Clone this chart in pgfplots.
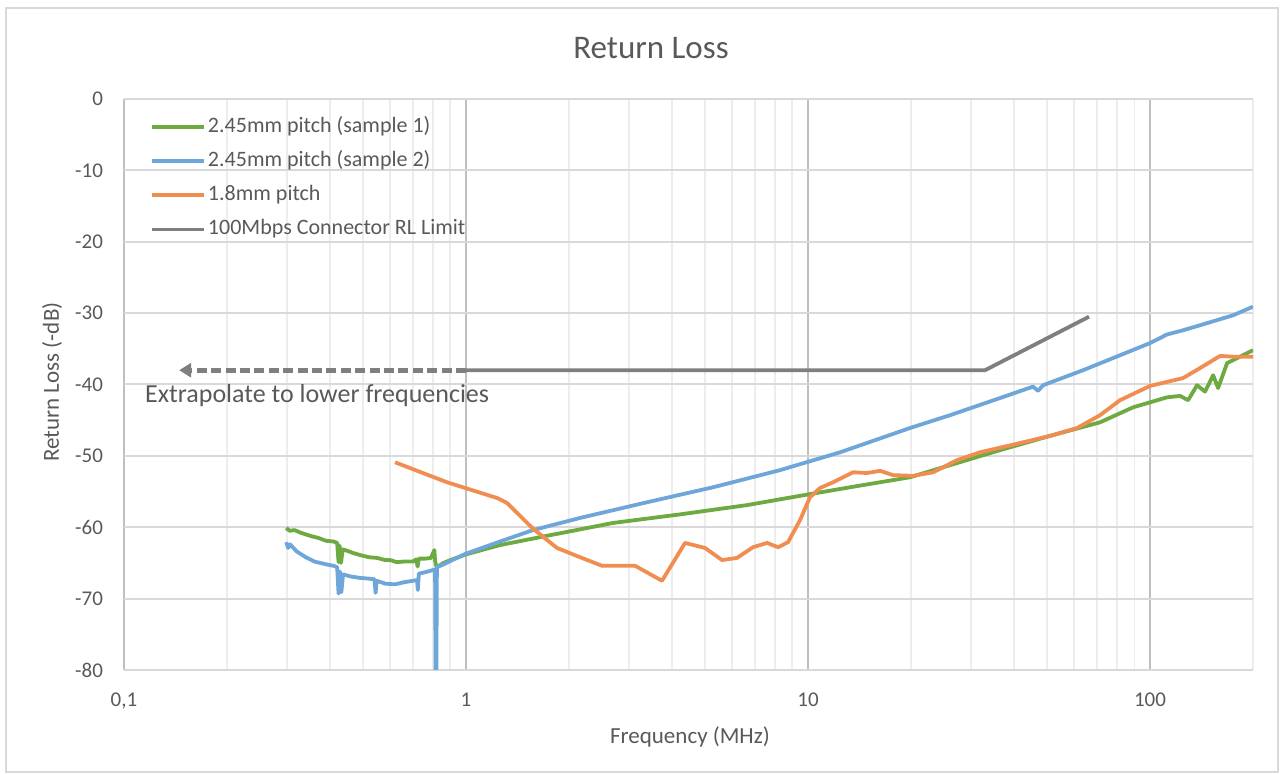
\documentclass[border=0pt]{standalone}
\usepackage{fontspec}
\setmainfont{Carlito}
\usepackage{pgfplots}
\pgfplotsset{compat=1.18}
\usetikzlibrary{arrows.meta}
\definecolor{cgreen}{HTML}{6DAA42}
\definecolor{cblue}{HTML}{6FA6DA}
\definecolor{corange}{HTML}{F08E52}
\definecolor{cgray}{HTML}{7F7F7F}
\definecolor{ctext}{HTML}{595959}
\definecolor{gmajor}{HTML}{D9D9D9}
\definecolor{gdec}{HTML}{BFBFBF}
\definecolor{gminor}{HTML}{EDEDED}
\begin{document}
\begin{tikzpicture}
\path (0,0) rectangle (640.5pt,387pt);
\draw[color=gmajor, line width=0.6pt] (3pt,1pt) rectangle (639pt,383pt);
\begin{axis}[
  at={(62pt,52pt)}, anchor=south west, scale only axis,
  width=564.5pt, height=285.5pt,
  xmode=log, xmin=0.1, xmax=200, ymin=-80, ymax=0,
  axis line style={draw=none},
  major tick length=0pt, minor tick length=0pt,
  xtick={0.1,1,10,100}, xticklabels={{0,1},1,10,100},
  minor xtick={0.2,0.3,0.4,0.5,0.6,0.7,0.8,0.9,2,3,4,5,6,7,8,9,20,30,40,50,60,70,80,90,200},
  ytick={-80,-70,-60,-50,-40,-30,-20,-10,0},
  yticklabels={-80,-70,-60,-50,-40,-30,-20,-10,0},
  xmajorgrids, xminorgrids, ymajorgrids,
  x grid style={color=gdec, line width=0.9pt},
  minor x grid style={color=gminor, line width=0.9pt},
  y grid style={color=gmajor, line width=1pt},
  ticklabel style={font=\fontsize{10.5}{12}\selectfont, text=ctext},
  xticklabel style={yshift=-8pt},
  yticklabel style={xshift=-7pt},
  legend style={at={(rel axis cs:0,1)}, anchor=north west, xshift=13pt, yshift=-7.5pt,
    draw=none, fill=none, inner sep=0pt, row sep=4.6pt,
    font=\fontsize{11}{13}\selectfont, text=ctext,
    nodes={inner sep=1pt, text height=8pt, text depth=2.5pt}},
  legend cell align=left,
  legend image code/.code={\draw[#1, line width=1.8pt] (0pt,0pt) -- (26pt,0pt);},
  every axis plot/.append style={line width=1.9pt, line join=round},
]
\addplot[cgreen] coordinates {
(0.298,-60.1)(0.305,-60.5)(0.315,-60.4)(0.33,-60.8)(0.35,-61.2)(0.37,-61.5)(0.39,-61.9)(0.41,-62.0)(0.42,-62.2)
(0.424,-64.9)(0.427,-62.6)(0.431,-65.0)(0.436,-63.1)(0.45,-63.3)(0.467,-63.6)(0.49,-63.9)(0.52,-64.2)(0.55,-64.3)
(0.58,-64.6)(0.60,-64.6)(0.628,-64.9)(0.66,-64.8)(0.70,-64.8)(0.715,-64.5)(0.722,-65.5)(0.728,-64.4)(0.76,-64.4)(0.79,-64.3)
(0.808,-63.2)(0.812,-64.7)(0.818,-65.4)(0.828,-65.5)(0.86,-65.0)(0.90,-64.6)(0.95,-64.2)(1.0,-63.8)
(1.257,-62.5)(1.725,-61.2)(2.691,-59.4)(4.224,-58.2)(6.63,-56.9)(9.475,-55.6)(13.27,-54.4)(19.87,-53.0)
(26.02,-51.3)(36.42,-49.2)(51.01,-47.2)(71.42,-45.3)(89.19,-43.2)(112.1,-41.8)(122.4,-41.6)(129.2,-42.2)
(137.2,-40.1)(144.8,-41.0)(152.9,-38.7)(158.1,-40.5)(168.0,-37.0)(183.3,-36.1)(200,-35.2)};
\addlegendentry{2.45mm pitch (sample 1)}
\addplot[cblue] coordinates {
(0.298,-62.1)(0.302,-62.9)(0.306,-62.4)(0.32,-63.4)(0.34,-64.2)(0.36,-64.8)(0.39,-65.2)(0.41,-65.4)(0.42,-65.6)
(0.424,-69.3)(0.428,-66.2)(0.432,-69.1)(0.437,-66.6)(0.46,-66.9)(0.49,-67.1)(0.52,-67.2)(0.54,-67.3)
(0.544,-69.2)(0.548,-67.5)(0.58,-67.9)(0.62,-68.0)(0.66,-67.7)(0.70,-67.5)(0.719,-67.4)(0.723,-68.8)(0.728,-66.5)
(0.76,-66.3)(0.80,-66.0)(0.812,-65.9)(0.815,-80.5)(0.819,-80.5)(0.822,-65.6)(0.86,-65.2)(0.93,-64.4)(1.0,-63.7)
(1.257,-62.0)(1.57,-60.4)(2.154,-58.7)(3.382,-56.5)(5.275,-54.4)(8.283,-52.0)(12.41,-49.5)
(19.87,-46.1)(26.02,-44.3)(36.42,-41.9)(45.49,-40.3)(47.05,-40.9)(48.66,-40.1)(63.69,-38.0)(100,-34.2)
(112,-33.0)(125,-32.4)(140,-31.7)(175,-30.3)(200,-29.1)};
\addlegendentry{2.45mm pitch (sample 2)}
\addplot[corange] coordinates {
(0.62,-50.9)(0.88,-53.7)(1.232,-55.9)(1.318,-56.6)(1.57,-60.2)(1.845,-62.9)(2.154,-64.2)(2.499,-65.4)(3.12,-65.4)
(3.742,-67.5)(4.369,-62.2)(4.998,-62.9)(5.605,-64.6)(6.199,-64.3)(6.904,-62.8)(7.59,-62.2)(8.173,-62.8)(8.74,-62.1)
(9.475,-59.0)(10.13,-55.8)(10.84,-54.5)(11.84,-53.7)(13.54,-52.3)(14.88,-52.4)(16.24,-52.1)(17.73,-52.7)(20.28,-52.8)
(23.21,-52.3)(27.28,-50.6)(31.84,-49.5)(40.84,-48.3)(51.01,-47.2)(61.16,-46.1)(71.42,-44.3)(81.71,-42.2)(100,-40.2)
(124.9,-39.1)(140,-37.7)(160.2,-36.0)(174.8,-36.1)(200,-36.1)};
\addlegendentry{1.8mm pitch}
\addplot[cgray] coordinates {(1,-38)(32.93,-38)(66.32,-30.5)};
\addlegendentry{100Mbps Connector RL Limit}
\addplot[cgray, forget plot, line width=2.3pt, dash pattern=on 5pt off 2.2pt,
  -{Triangle[length=6pt,width=7pt]}] coordinates {(1,-38)(0.145,-38)};
\node[anchor=west, text=ctext, font=\fontsize{13}{15}\selectfont, inner sep=0pt] at (axis cs:0.115,-41.6) {Extrapolate to lower frequencies};
\end{axis}
\node[text=ctext, font=\fontsize{16.5}{19}\selectfont] at (325.5pt,363pt) {Return Loss};
\node[text=ctext, font=\fontsize{11.5}{13}\selectfont] at (345pt,18.5pt) {Frequency (MHz)};
\node[text=ctext, font=\fontsize{11.5}{13}\selectfont, rotate=90] at (26pt,196pt) {Return Loss (-dB)};
\end{tikzpicture}
\end{document}
